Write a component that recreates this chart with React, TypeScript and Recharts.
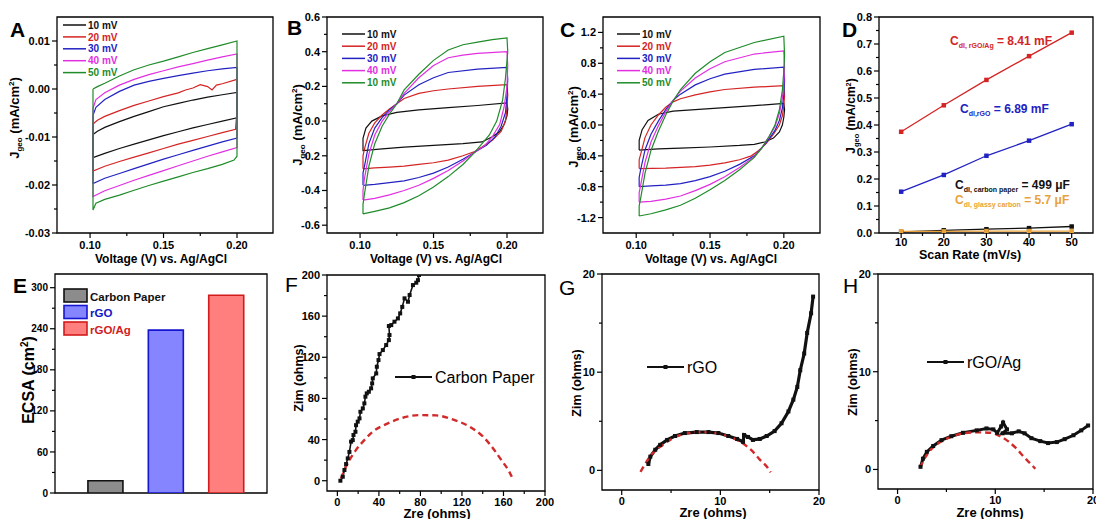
import React from "react";
import { LineChart, Line, XAxis, YAxis, ReferenceArea, BarChart, Bar, Cell } from "recharts";

const W = 1096;
const H = 519;
const FONT = "'Liberation Sans', Arial, Helvetica, sans-serif";

type Pt = [number, number];
type Box = { l: number; t: number; r: number; b: number };

// ---------- colours ----------
const K = "#111111";
const RED = "#d42424";
const BLUE = "#2222c2";
const MAG = "#e22fe2";
const GRN = "#1f8c2a";
const ORG = "#e9a23b";
const CV_COLORS = [K, RED, BLUE, MAG, GRN];

// ---------- panel A: CV, carbon paper ----------
const A_10: Pt[] = [[0.102,-0.0095],[0.105,-0.0088],[0.11,-0.008],[0.12,-0.0068],[0.13,-0.0057],[0.14,-0.0047],[0.15,-0.0037],[0.16,-0.003],[0.17,-0.0023],[0.18,-0.0017],[0.19,-0.0012],[0.2,-0.0007],[0.2,-0.006],[0.19,-0.0067],[0.18,-0.0074],[0.17,-0.0081],[0.16,-0.0089],[0.15,-0.0097],[0.14,-0.0106],[0.13,-0.0115],[0.12,-0.0124],[0.11,-0.0134],[0.102,-0.0143],[0.102,-0.0095]];
const A_20: Pt[] = [[0.102,-0.0073],[0.105,-0.0065],[0.11,-0.0057],[0.12,-0.0045],[0.13,-0.0034],[0.14,-0.0025],[0.15,-0.0016],[0.16,-0.0008],[0.165,-0.0002],[0.17,0.0002],[0.175,0.0009],[0.18,0.0005],[0.183,-0.0002],[0.186,0.0008],[0.19,0.0011],[0.2,0.002],[0.2,-0.0045],[0.199,-0.0084],[0.19,-0.0091],[0.18,-0.0099],[0.17,-0.0107],[0.16,-0.0115],[0.15,-0.0124],[0.14,-0.0133],[0.13,-0.0142],[0.12,-0.0151],[0.11,-0.0161],[0.102,-0.0171],[0.102,-0.0073]];
const A_30: Pt[] = [[0.102,-0.0055],[0.104,-0.0038],[0.11,-0.0022],[0.12,-0.0005],[0.13,0.0008],[0.14,0.0016],[0.15,0.0022],[0.16,0.0028],[0.17,0.0033],[0.18,0.0038],[0.19,0.0042],[0.2,0.0045],[0.2,-0.0102],[0.19,-0.011],[0.18,-0.0119],[0.17,-0.0128],[0.16,-0.0137],[0.15,-0.0146],[0.14,-0.0156],[0.13,-0.0166],[0.12,-0.0176],[0.11,-0.0186],[0.102,-0.0197],[0.102,-0.0055]];
const A_40: Pt[] = [[0.102,-0.004],[0.104,-0.0022],[0.11,-0.0008],[0.12,0.0008],[0.13,0.002],[0.14,0.003],[0.15,0.0038],[0.16,0.0046],[0.17,0.0053],[0.18,0.006],[0.19,0.0067],[0.2,0.0073],[0.2,-0.0122],[0.19,-0.0131],[0.18,-0.014],[0.17,-0.015],[0.16,-0.016],[0.15,-0.017],[0.14,-0.018],[0.13,-0.019],[0.12,-0.0201],[0.11,-0.0212],[0.102,-0.0224],[0.102,-0.004]];
const A_50: Pt[] = [[0.102,0],[0.105,0.0005],[0.11,0.0012],[0.12,0.0027],[0.13,0.004],[0.14,0.005],[0.15,0.0058],[0.16,0.0067],[0.17,0.0076],[0.18,0.0084],[0.19,0.0092],[0.2,0.01],[0.2,-0.014],[0.198,-0.0148],[0.19,-0.0157],[0.18,-0.0166],[0.17,-0.0174],[0.16,-0.0183],[0.15,-0.0192],[0.14,-0.0201],[0.13,-0.0211],[0.12,-0.0221],[0.11,-0.023],[0.104,-0.0238],[0.102,-0.0252],[0.102,0]];

// ---------- panel B: CV, rGO ----------
const B_10: Pt[] = [[0.102,-0.165],[0.102,-0.1],[0.104,-0.04],[0.108,0],[0.115,0.03],[0.125,0.05],[0.14,0.065],[0.16,0.078],[0.18,0.09],[0.2,0.105],[0.2005,0.07],[0.2,0.03],[0.198,-0.02],[0.195,-0.06],[0.19,-0.09],[0.183,-0.12],[0.17,-0.13],[0.15,-0.14],[0.13,-0.15],[0.115,-0.16],[0.102,-0.17],[0.102,-0.165]];
const B_20: Pt[] = [[0.102,-0.275],[0.102,-0.2],[0.103,-0.16],[0.106,-0.07],[0.11,-0.01],[0.115,0.035],[0.12,0.07],[0.125,0.1],[0.13,0.13],[0.14,0.16],[0.15,0.175],[0.16,0.185],[0.18,0.2],[0.2,0.21],[0.2005,0.15],[0.2,0.08],[0.199,0],[0.196,-0.06],[0.19,-0.11],[0.183,-0.15],[0.178,-0.175],[0.17,-0.2],[0.16,-0.225],[0.15,-0.24],[0.14,-0.25],[0.13,-0.26],[0.12,-0.265],[0.11,-0.27],[0.102,-0.275]];
const B_30: Pt[] = [[0.102,-0.37],[0.102,-0.3],[0.103,-0.26],[0.106,-0.13],[0.11,-0.04],[0.115,0.02],[0.12,0.065],[0.125,0.1],[0.13,0.15],[0.14,0.21],[0.15,0.25],[0.16,0.28],[0.18,0.3],[0.2,0.31],[0.2005,0.24],[0.2,0.15],[0.199,0.05],[0.196,-0.03],[0.192,-0.09],[0.186,-0.14],[0.178,-0.18],[0.17,-0.22],[0.16,-0.265],[0.15,-0.3],[0.14,-0.325],[0.13,-0.345],[0.12,-0.355],[0.11,-0.365],[0.102,-0.37]];
const B_40: Pt[] = [[0.102,-0.455],[0.102,-0.4],[0.103,-0.33],[0.106,-0.19],[0.11,-0.08],[0.115,0],[0.12,0.055],[0.125,0.1],[0.13,0.16],[0.14,0.25],[0.15,0.32],[0.16,0.365],[0.17,0.38],[0.18,0.39],[0.2,0.4],[0.2005,0.32],[0.2,0.2],[0.198,0.08],[0.195,-0.02],[0.19,-0.09],[0.185,-0.14],[0.178,-0.18],[0.17,-0.23],[0.16,-0.285],[0.15,-0.33],[0.14,-0.37],[0.13,-0.4],[0.12,-0.425],[0.11,-0.445],[0.102,-0.455]];
const B_50: Pt[] = [[0.102,-0.535],[0.102,-0.48],[0.103,-0.42],[0.106,-0.26],[0.11,-0.13],[0.115,-0.03],[0.12,0.04],[0.125,0.1],[0.13,0.18],[0.14,0.27],[0.15,0.35],[0.16,0.41],[0.17,0.44],[0.18,0.455],[0.19,0.47],[0.2,0.48],[0.2005,0.4],[0.199,0.25],[0.197,0.12],[0.193,0],[0.188,-0.08],[0.183,-0.13],[0.178,-0.18],[0.17,-0.25],[0.16,-0.32],[0.15,-0.38],[0.14,-0.43],[0.13,-0.47],[0.12,-0.5],[0.11,-0.52],[0.102,-0.535]];

// ---------- panel C: CV, rGO/Ag ----------
const C_10: Pt[] = [[0.102,-0.325],[0.102,-0.2],[0.104,-0.06],[0.108,0.06],[0.115,0.14],[0.125,0.18],[0.14,0.2],[0.16,0.225],[0.18,0.25],[0.2,0.28],[0.2005,0.2],[0.2,0.1],[0.199,0],[0.197,-0.09],[0.193,-0.17],[0.187,-0.22],[0.18,-0.25],[0.17,-0.265],[0.15,-0.285],[0.13,-0.3],[0.115,-0.31],[0.102,-0.325]];
const C_20: Pt[] = [[0.102,-0.565],[0.102,-0.45],[0.103,-0.38],[0.106,-0.16],[0.11,0],[0.115,0.13],[0.12,0.23],[0.125,0.3],[0.13,0.34],[0.14,0.39],[0.15,0.43],[0.16,0.46],[0.18,0.49],[0.2,0.51],[0.2005,0.38],[0.2,0.25],[0.199,0.12],[0.197,0],[0.193,-0.12],[0.188,-0.24],[0.183,-0.33],[0.178,-0.4],[0.17,-0.45],[0.16,-0.49],[0.15,-0.52],[0.14,-0.54],[0.13,-0.55],[0.12,-0.56],[0.102,-0.565]];
const C_30: Pt[] = [[0.102,-0.8],[0.102,-0.68],[0.103,-0.58],[0.106,-0.32],[0.11,-0.12],[0.115,0.05],[0.12,0.2],[0.125,0.32],[0.13,0.4],[0.14,0.52],[0.15,0.6],[0.16,0.66],[0.18,0.72],[0.2,0.75],[0.2005,0.58],[0.2,0.4],[0.199,0.22],[0.197,0.06],[0.194,-0.07],[0.19,-0.18],[0.185,-0.3],[0.18,-0.4],[0.17,-0.51],[0.16,-0.6],[0.15,-0.67],[0.14,-0.72],[0.13,-0.76],[0.12,-0.78],[0.11,-0.79],[0.102,-0.8]];
const C_40: Pt[] = [[0.102,-1.0],[0.102,-0.88],[0.103,-0.78],[0.106,-0.48],[0.11,-0.22],[0.115,-0.01],[0.12,0.17],[0.125,0.32],[0.13,0.44],[0.14,0.61],[0.15,0.73],[0.16,0.82],[0.18,0.92],[0.2,0.96],[0.2005,0.75],[0.2,0.55],[0.199,0.35],[0.197,0.15],[0.194,-0.02],[0.19,-0.15],[0.185,-0.3],[0.18,-0.41],[0.17,-0.55],[0.16,-0.67],[0.15,-0.77],[0.14,-0.85],[0.13,-0.92],[0.12,-0.96],[0.11,-0.99],[0.102,-1.0]];
const C_50: Pt[] = [[0.102,-1.18],[0.102,-1.05],[0.103,-0.95],[0.106,-0.62],[0.11,-0.33],[0.115,-0.08],[0.12,0.13],[0.125,0.31],[0.13,0.46],[0.14,0.67],[0.15,0.82],[0.16,0.94],[0.18,1.07],[0.2,1.15],[0.2005,0.9],[0.2,0.7],[0.199,0.45],[0.197,0.2],[0.194,0],[0.19,-0.15],[0.185,-0.3],[0.18,-0.42],[0.17,-0.58],[0.16,-0.72],[0.15,-0.84],[0.14,-0.95],[0.13,-1.04],[0.12,-1.1],[0.11,-1.15],[0.102,-1.18]];

const CV_LABELS = ["10 mV", "20 mV", "30 mV", "40 mV", "50 mV"];
const CV_LABELS_B = ["10 mV", "20 mV", "30 mV", "40 mV", "10 mV"];

// ---------- panel D: scan rate ----------
const D_RATES = [10, 20, 30, 40, 50];
const D_RGOAG = [0.375, 0.473, 0.567, 0.655, 0.742];
const D_RGO = [0.153, 0.215, 0.286, 0.342, 0.403];
const D_CP = [0.004, 0.01, 0.014, 0.018, 0.024];
const D_GC = [0.006, 0.006, 0.007, 0.007, 0.007];

// ---------- panel E: ECSA ----------
const E_NAMES = ["Carbon Paper", "rGO", "rGO/Ag"];
const E_POS = [1, 2, 3];
const E_VALUES = [18, 238, 289];
const E_FILL = ["#8c8c8c", "#8585ff", "#ff7f7f"];
const E_EDGE = ["#111111", "#1515d0", "#d21c1c"];
const E_TEXT = ["#111111", "#1515c8", "#d21c1c"];

// ---------- panels F-H: Nyquist ----------
const F_CP: Pt[] = [[2.9,0],[5.2,3.9],[6.8,10.4],[8.4,16.2],[10,21.7],[11.6,28],[13.2,38],[14.8,39.5],[15.5,44.4],[17.4,47.6],[18,54],[19.6,57.4],[21.3,60.6],[22.2,67],[24.5,70.3],[26,75.2],[27,81.7],[28.3,84.9],[30.3,86.5],[32.5,89.8],[33.5,94.6],[34.1,99.5],[37.4,104.3],[38,110.8],[39.6,117.3],[40.6,123.1],[43.8,127],[47,131.9],[49.6,136.7],[50.2,141.6],[49.6,150.4],[51.9,151.3],[55,154.6],[58.3,157.8],[60.5,162.7],[62.5,169],[64.7,177.3],[68,174],[69.6,180.5],[72.8,190.2],[76,192.5],[77.6,195],[78.6,200]];
const F_FIT: Pt[] = [[3.5,2.3],[6.8,10.4],[11.6,20],[18,30],[26,39.5],[34,47.6],[47,55],[63,61.2],[79,63.8],[95,63.5],[111,59.6],[127.5,52.5],[140.4,42.8],[150,31.4],[158,20],[164.6,10.4],[168,3.9]];
const G_RGO: Pt[] = [[2.7,0.65],[2.9,1.4],[3.4,2.1],[3.9,2.6],[4.6,3.1],[5.4,3.5],[6.4,3.8],[7.6,3.9],[8.8,3.9],[9.8,3.8],[10.8,3.5],[11.7,3.2],[12.3,2.9],[12.4,3.6],[12.8,3.4],[13.3,3.1],[14,3.2],[14.7,3.5],[15.5,4],[16.2,4.8],[16.9,6],[17.4,7.2],[17.8,8.5],[18.1,10.2],[18.5,11.9],[18.8,14],[19.2,16],[19.4,17.7]];
const G_FIT: Pt[] = [[1.9,-0.15],[2.4,0.7],[3,1.6],[3.9,2.4],[4.9,3.1],[6.3,3.7],[7.9,3.9],[9.6,3.8],[11,3.4],[12.2,2.8],[13.2,2],[14,1.1],[14.7,0.4],[15.1,-0.2]];
const H_RGOAG: Pt[] = [[2.35,0.27],[2.6,1.1],[3,1.8],[3.65,2.4],[4.5,3],[5.5,3.4],[6.7,3.75],[8.1,4],[9.1,4.2],[9.8,4.1],[10.2,3.75],[10.6,4.4],[10.8,4.8],[11.2,4.1],[10.75,3.7],[11.7,3.7],[12.4,3.9],[13,3.7],[13.7,3.2],[14.6,2.9],[15.4,2.7],[16.3,2.8],[17.1,3.1],[18,3.5],[18.8,4],[19.5,4.5]];
const H_FIT: Pt[] = [[2.3,0.17],[2.7,1],[3.3,1.9],[4.2,2.7],[5.4,3.3],[6.7,3.7],[8.1,3.8],[9.5,3.75],[10.5,3.4],[11.3,2.9],[12.2,2.1],[13,1.2],[13.7,0.5],[14.1,0.07]];

// ---------- ticks ----------
const CV_X_TICKS = [0.1, 0.125, 0.15, 0.175, 0.2];
const CV_X_MAJOR = [0.1, 0.15, 0.2];
const A_Y_TICKS = [-0.03, -0.025, -0.02, -0.015, -0.01, -0.005, 0, 0.005, 0.01];
const A_Y_MAJOR = [-0.03, -0.02, -0.01, 0, 0.01];
const B_Y_TICKS = [-0.6, -0.5, -0.4, -0.3, -0.2, -0.1, 0, 0.1, 0.2, 0.3, 0.4, 0.5, 0.6];
const B_Y_MAJOR = [-0.6, -0.4, -0.2, 0, 0.2, 0.4, 0.6];
const C_Y_TICKS = [-1.2, -1.0, -0.8, -0.6, -0.4, -0.2, 0, 0.2, 0.4, 0.6, 0.8, 1.0, 1.2];
const C_Y_MAJOR = [-1.2, -0.8, -0.4, 0, 0.4, 0.8, 1.2];
const D_X_TICKS = [10, 15, 20, 25, 30, 35, 40, 45, 50];
const D_Y_TICKS = [0, 0.05, 0.1, 0.15, 0.2, 0.25, 0.3, 0.35, 0.4, 0.45, 0.5, 0.55, 0.6, 0.65, 0.7, 0.75, 0.8];
const D_Y_MAJOR = [0, 0.1, 0.2, 0.3, 0.4, 0.5, 0.6, 0.7, 0.8];
const E_Y_TICKS = [0, 30, 60, 90, 120, 150, 180, 210, 240, 270, 300];
const E_Y_MAJOR = [0, 60, 120, 180, 240, 300];
const F_TICKS = [0, 20, 40, 60, 80, 100, 120, 140, 160, 180, 200];
const F_MAJOR = [0, 40, 80, 120, 160, 200];
const GH_TICKS = [0, 5, 10, 15, 20];
const GH_MAJOR = [0, 10, 20];

// ---------- plot boxes (page px) ----------
const BOX_A: Box = { l: 57, t: 17, r: 273, b: 233 };
const BOX_B: Box = { l: 327, t: 17, r: 543, b: 233 };
const BOX_C: Box = { l: 603, t: 17, r: 820, b: 233 };
const BOX_D: Box = { l: 879, t: 17, r: 1093, b: 233 };
const BOX_E: Box = { l: 55, t: 274, r: 267, b: 493 };
const BOX_F: Box = { l: 327, t: 275, r: 545, b: 491 };
const BOX_G: Box = { l: 602, t: 274, r: 819, b: 490 };
const BOX_H: Box = { l: 878, t: 274, r: 1093, b: 489 };

const toXY = (a: Pt[]) => a.map(([x, y]) => ({ x, y }));
const near = (list: number[], v: number) => list.some((m) => Math.abs(m - v) < 1e-9);
const mg = (bx: Box, yw = 40, xh = 30) => ({ left: bx.l - yw, top: bx.t, right: W - bx.r, bottom: H - bx.b - xh });
const layer: React.CSSProperties = { position: "absolute", left: 0, top: 0, width: W, height: H };

const axisBase = { tickLine: false, axisLine: false, tickSize: 0, tickMargin: 0, interval: 0 as const, allowDataOverflow: true };

function xTick(major: number[], digits: number, fs = 11, dy = 16) {
  return (p: any) => {
    const v = p.payload.value;
    const big = near(major, v);
    return (
      <g>
        <line x1={p.x} x2={p.x} y1={p.y} y2={p.y + (big ? 5 : 3)} stroke="#000" strokeWidth={1.2} />
        {big && (
          <text x={p.x} y={p.y + dy} textAnchor="middle" fontSize={fs} fontWeight="bold" fontFamily={FONT} fill="#000">
            {v.toFixed(digits)}
          </text>
        )}
      </g>
    );
  };
}

function yTick(major: number[], digits: number, fs = 11) {
  return (p: any) => {
    const v = p.payload.value;
    const big = near(major, v);
    return (
      <g>
        <line x1={p.x} x2={p.x - (big ? 5 : 3)} y1={p.y} y2={p.y} stroke="#000" strokeWidth={1.2} />
        {big && (
          <text x={p.x - 7} y={p.y + fs * 0.36} textAnchor="end" fontSize={fs} fontWeight="bold" fontFamily={FONT} fill="#000">
            {v.toFixed(digits)}
          </text>
        )}
      </g>
    );
  };
}

const square = (size: number, color: string) => (p: any) =>
  p.cx == null ? <g key={`n${p.index}`} /> : (
    <rect key={`s${p.index}`} x={p.cx - size / 2} y={p.cy - size / 2} width={size} height={size} fill={color} />
  );

function Frame({ xd, yd }: { xd: number[]; yd: number[] }) {
  return <ReferenceArea x1={xd[0]} x2={xd[1]} y1={yd[0]} y2={yd[1]} fill="none" stroke="#000" strokeWidth={1.3} ifOverflow="visible" />;
}

const CV_XD = [0.0775, 0.2245];

function CVPanel({ box, yd, yTicks, yMajor, yDigits, loops }: { box: Box; yd: number[]; yTicks: number[]; yMajor: number[]; yDigits: number; loops: Pt[][] }) {
  return (
    <div style={layer}>
      <LineChart width={W} height={H} margin={mg(box)}>
        <XAxis {...axisBase} type="number" dataKey="x" domain={CV_XD} ticks={CV_X_TICKS} tick={xTick(CV_X_MAJOR, 2)} height={30} />
        <YAxis {...axisBase} type="number" domain={yd} ticks={yTicks} tick={yTick(yMajor, yDigits)} width={40} />
        <Frame xd={CV_XD} yd={yd} />
        {loops.map((d, i) => (
          <Line key={i} data={toXY(d)} dataKey="y" type="linear" stroke={CV_COLORS[i]} strokeWidth={1.2} dot={false} isAnimationActive={false} />
        ))}
      </LineChart>
    </div>
  );
}

const D_XD = [4.8, 55];
const D_YD = [0, 0.8];
const dData = D_RATES.map((x, i) => ({ x, rgoag: D_RGOAG[i], rgo: D_RGO[i], cp: D_CP[i], gc: D_GC[i] }));
const D_SERIES = [
  { key: "rgoag", color: RED },
  { key: "rgo", color: BLUE },
  { key: "cp", color: K },
  { key: "gc", color: ORG },
];

function DPanel() {
  return (
    <div style={layer}>
      <LineChart width={W} height={H} data={dData} margin={mg(BOX_D)}>
        <XAxis {...axisBase} type="number" dataKey="x" domain={D_XD} ticks={D_X_TICKS} tick={xTick(D_RATES, 0, 11, 13)} height={30} />
        <YAxis {...axisBase} type="number" domain={D_YD} ticks={D_Y_TICKS} tick={yTick(D_Y_MAJOR, 1)} width={40} />
        <Frame xd={D_XD} yd={D_YD} />
        {D_SERIES.map((s) => (
          <Line key={s.key} dataKey={s.key} type="linear" stroke={s.color} strokeWidth={1.3} dot={square(4.5, s.color)} isAnimationActive={false} />
        ))}
      </LineChart>
    </div>
  );
}

const E_XD = [0.17, 3.68];
const E_YD = [0, 320];
const eData = E_NAMES.map((name, i) => ({ name, pos: E_POS[i], v: E_VALUES[i] }));

function EPanel() {
  return (
    <div style={layer}>
      <BarChart width={W} height={H} data={eData} margin={mg(BOX_E, 40, 10)}>
        <XAxis {...axisBase} type="number" dataKey="pos" domain={E_XD} ticks={E_POS} tick={false} height={10} />
        <YAxis {...axisBase} type="number" domain={E_YD} ticks={E_Y_TICKS} tick={yTick(E_Y_MAJOR, 0, 10)} width={40} />
        <Bar dataKey="v" barSize={35} isAnimationActive={false}>
          {eData.map((d, i) => (
            <Cell key={d.name} fill={E_FILL[i]} stroke={E_EDGE[i]} strokeWidth={1.6} />
          ))}
        </Bar>
        <Frame xd={E_XD} yd={E_YD} />
      </BarChart>
    </div>
  );
}

function NyquistPanel({ box, xd, yd, ticks, major, data, fit, lineW, mark }: { box: Box; xd: number[]; yd: number[]; ticks: number[]; major: number[]; data: Pt[]; fit: Pt[]; lineW: number; mark: number }) {
  return (
    <div style={layer}>
      <LineChart width={W} height={H} margin={mg(box)}>
        <XAxis {...axisBase} type="number" dataKey="x" domain={xd} ticks={ticks} tick={xTick(major, 0, 11, 14.5)} height={30} />
        <YAxis {...axisBase} type="number" domain={yd} ticks={ticks} tick={yTick(major, 0)} width={40} />
        <Frame xd={xd} yd={yd} />
        <Line data={toXY(data)} dataKey="y" type="linear" stroke={K} strokeWidth={lineW} dot={square(mark, K)} isAnimationActive={false} />
        <Line data={toXY(fit)} dataKey="y" type="monotone" stroke="#d12a2a" strokeWidth={2.4} strokeDasharray="6 4" dot={false} isAnimationActive={false} />
      </LineChart>
    </div>
  );
}

// ---------- text overlay ----------
function JTitle({ cx, cy, fs }: { cx: number; cy: number; fs: number }) {
  return (
    <text transform={`translate(${cx + fs * 0.36} ${cy}) rotate(-90)`} textAnchor="middle" fontSize={fs} fontWeight="bold" fill="#000">
      J<tspan fontSize={fs * 0.62} dy={fs * 0.28}>geo</tspan>
      <tspan dy={-fs * 0.28}> (mA/cm</tspan>
      <tspan fontSize={fs * 0.62} dy={-fs * 0.38}>2</tspan>
      <tspan dy={fs * 0.38}>)</tspan>
    </text>
  );
}

function VTitle({ cx, cy, fs, text }: { cx: number; cy: number; fs: number; text: string }) {
  return (
    <text transform={`translate(${cx + fs * 0.36} ${cy}) rotate(-90)`} textAnchor="middle" fontSize={fs} fontWeight="bold" fill="#000">
      {text}
    </text>
  );
}

function CvLegend({ x, y, step, labels }: { x: number; y: number; step: number; labels: string[] }) {
  return (
    <g>
      {labels.map((lab, i) => (
        <g key={i}>
          <line x1={x} x2={x + 23} y1={y + i * step} y2={y + i * step} stroke={CV_COLORS[i]} strokeWidth={1.5} />
          <text x={x + 25} y={y + i * step + 3.6} fontSize={10} fontWeight="bold" fill={CV_COLORS[i]}>{lab}</text>
        </g>
      ))}
    </g>
  );
}

function Cdl({ x, y, sub, rest, color }: { x: number; y: number; sub: string; rest: string; color: string }) {
  return (
    <text x={x} y={y} fontSize={12} fontWeight="bold" fill={color}>
      C<tspan fontSize={7} dy={3}>{sub}</tspan>
      <tspan dy={-3}>{rest}</tspan>
    </text>
  );
}

function MarkLegend({ x, y, text }: { x: number; y: number; text: string }) {
  return (
    <g>
      <line x1={x} x2={x + 37} y1={y} y2={y} stroke={K} strokeWidth={2} />
      <rect x={x + 16.5} y={y - 2} width={4} height={4} fill={K} />
      <text x={x + 40} y={y + 6} fontSize={16} fill="#000">{text}</text>
    </g>
  );
}

function Overlay() {
  const letter = (t: string, x: number, y: number, bold: boolean) => (
    <text x={x} y={y} fontSize={21} fontWeight={bold ? "bold" : "normal"} fill="#000">{t}</text>
  );
  return (
    <svg style={{ ...layer, pointerEvents: "none" }} width={W} height={H} fontFamily={FONT}>
      {letter("A", 10, 37, true)}
      {letter("B", 287, 35, true)}
      {letter("C", 560, 37, true)}
      {letter("D", 842, 37, true)}
      {letter("E", 13, 293, true)}
      {letter("F", 285, 292, false)}
      {letter("G", 559, 295, false)}
      {letter("H", 843, 293, false)}

      <text x={161} y={263} textAnchor="middle" fontSize={12} fontWeight="bold">Voltage (V) vs. Ag/AgCl</text>
      <text x={436} y={263} textAnchor="middle" fontSize={12} fontWeight="bold">Voltage (V) vs. Ag/AgCl</text>
      <text x={711} y={263} textAnchor="middle" fontSize={12} fontWeight="bold">Voltage (V) vs. Ag/AgCl</text>
      <text x={970} y={259} textAnchor="middle" fontSize={12.5} fontWeight="bold">Scan Rate (mV/s)</text>
      <text x={437} y={517.5} textAnchor="middle" fontSize={13} fontWeight="bold">Zre (ohms)</text>
      <text x={713} y={517} textAnchor="middle" fontSize={13} fontWeight="bold">Zre (ohms)</text>
      <text x={990} y={517} textAnchor="middle" fontSize={13} fontWeight="bold">Zre (ohms)</text>

      <JTitle cx={14} cy={118} fs={13} />
      <JTitle cx={297} cy={125} fs={13} />
      <JTitle cx={573} cy={127} fs={13} />
      <JTitle cx={851} cy={116} fs={12} />
      <text transform={`translate(${28 + 16 * 0.36} 380) rotate(-90)`} textAnchor="middle" fontSize={16} fontWeight="bold">
        ECSA (cm<tspan fontSize={10} dy={-6}>2</tspan><tspan dy={6}>)</tspan>
      </text>
      <VTitle cx={298} cy={378} fs={12.5} text="Zim (ohms)" />
      <VTitle cx={576} cy={383} fs={12.5} text="Zim (ohms)" />
      <VTitle cx={852} cy={382} fs={12.5} text="Zim (ohms)" />

      <CvLegend x={63} y={25} step={11.9} labels={CV_LABELS} />
      <CvLegend x={342} y={34} step={12.2} labels={CV_LABELS_B} />
      <CvLegend x={617} y={34} step={12.2} labels={CV_LABELS} />

      <Cdl x={950} y={45} sub="dl, rGO/Ag" rest=" = 8.41 mF" color={RED} />
      <Cdl x={960} y={113} sub="dl,rGO" rest=" = 6.89 mF" color={BLUE} />
      <Cdl x={955} y={189} sub="dl, carbon paper" rest=" = 499 μF" color={K} />
      <Cdl x={955} y={204} sub="dl, glassy carbon" rest=" = 5.7 μF" color={ORG} />

      {E_NAMES.map((n, i) => (
        <g key={n}>
          <rect x={64} y={289 + i * 16.5} width={23} height={13} fill={E_FILL[i]} stroke={E_EDGE[i]} strokeWidth={1.6} />
          <text x={90} y={300.5 + i * 16.5} fontSize={11.5} fontWeight="bold" fill={E_TEXT[i]}>{n}</text>
        </g>
      ))}

      <MarkLegend x={395} y={377} text="Carbon Paper" />
      <MarkLegend x={647} y={367} text="rGO" />
      <MarkLegend x={927} y={362} text="rGO/Ag" />
    </svg>
  );
}

export default function App() {
  return (
    <div style={{ ...layer, background: "#fff", fontFamily: FONT }}>
      <CVPanel box={BOX_A} yd={[-0.03, 0.015]} yTicks={A_Y_TICKS} yMajor={A_Y_MAJOR} yDigits={2} loops={[A_10, A_20, A_30, A_40, A_50]} />
      <CVPanel box={BOX_B} yd={[-0.645, 0.6]} yTicks={B_Y_TICKS} yMajor={B_Y_MAJOR} yDigits={1} loops={[B_10, B_20, B_30, B_40, B_50]} />
      <CVPanel box={BOX_C} yd={[-1.4, 1.4]} yTicks={C_Y_TICKS} yMajor={C_Y_MAJOR} yDigits={1} loops={[C_10, C_20, C_30, C_40, C_50]} />
      <DPanel />
      <EPanel />
      <NyquistPanel box={BOX_F} xd={[-10, 200]} yd={[-10, 200]} ticks={F_TICKS} major={F_MAJOR} data={F_CP} fit={F_FIT} lineW={1.6} mark={4} />
      <NyquistPanel box={BOX_G} xd={[-2, 20]} yd={[-2, 20]} ticks={GH_TICKS} major={GH_MAJOR} data={G_RGO} fit={G_FIT} lineW={3.2} mark={4} />
      <NyquistPanel box={BOX_H} xd={[-2, 20]} yd={[-2, 20]} ticks={GH_TICKS} major={GH_MAJOR} data={H_RGOAG} fit={H_FIT} lineW={3} mark={4} />
      <Overlay />
    </div>
  );
}
